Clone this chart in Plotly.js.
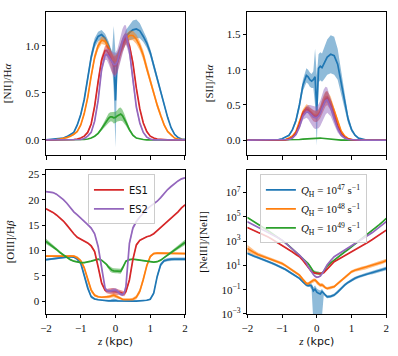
<!DOCTYPE html>
<html>
<head>
<meta charset="utf-8">
<script src="https://cdn.plot.ly/plotly-3.0.1.min.js"></script>
<style>
  html, body { margin: 0; padding: 0; background: #fff; }
  #fig { width: 398px; height: 356px; }
</style>
</head>
<body>
<div id="fig"></div>
<script>
// ====== Data ======
// z grid in kpc: -2.0..-0.3 by 0.1, -0.25..0.3 by 0.05, 0.4..2.0 by 0.1
var Z = [-2.0,-1.9,-1.8,-1.7,-1.6,-1.5,-1.4,-1.3,-1.2,-1.1,-1.0,-0.9,-0.8,-0.7,-0.6,-0.5,-0.4,-0.3,
  -0.25,-0.2,-0.15,-0.1,-0.05,0.0,0.05,0.1,0.15,0.2,0.25,0.3,
  0.4,0.5,0.6,0.7,0.8,0.9,1.0,1.1,1.2,1.3,1.4,1.5,1.6,1.7,1.8,1.9,2.0];

// [NII]/Halpha  (value, band half-width)
var NII_BLUE = [0,0.005,0.008,0.012,0.016,0.02,0.035,0.055,0.08,0.16,0.27,0.43,0.65,0.88,1.03,1.1,1.12,1.08,
  1.04,1.0,0.94,0.88,0.86,0.42,0.85,0.92,0.98,1.02,1.06,1.1,
  1.14,1.17,1.18,1.16,1.1,1.03,0.93,0.79,0.65,0.5,0.36,0.24,0.13,0.06,0.025,0.01,0.005];
var NII_BLUE_E = [0,0,0,0,0,0.005,0.005,0.01,0.01,0.015,0.02,0.03,0.04,0.05,0.05,0.05,0.05,0.05,
  0.05,0.05,0.05,0.06,0.35,0.5,0.08,0.06,0.06,0.06,0.06,0.07,
  0.08,0.1,0.1,0.08,0.06,0.05,0.04,0.04,0.03,0.03,0.02,0.02,0.01,0.01,0,0,0];
var NII_ORANGE = [0,0,0.003,0.005,0.01,0.015,0.025,0.04,0.06,0.09,0.16,0.28,0.45,0.68,0.88,1.0,1.06,1.05,
  1.02,0.98,0.93,0.88,0.85,0.84,0.86,0.91,0.96,1.0,1.04,1.07,
  1.11,1.11,1.07,1.0,0.9,0.76,0.62,0.5,0.37,0.26,0.16,0.09,0.05,0.02,0.01,0.005,0];
var NII_ORANGE_E = [0,0,0,0,0,0,0,0.005,0.01,0.01,0.015,0.02,0.03,0.04,0.04,0.04,0.04,0.04,
  0.04,0.04,0.04,0.05,0.06,0.06,0.06,0.05,0.05,0.05,0.05,0.05,
  0.05,0.05,0.05,0.05,0.05,0.04,0.04,0.03,0.03,0.02,0.02,0.01,0.01,0,0,0,0];
var NII_GREEN = [0,0,0,0,0,0,0,0,0,0,0.002,0.005,0.01,0.02,0.04,0.07,0.12,0.18,
  0.21,0.23,0.245,0.245,0.235,0.24,0.255,0.27,0.275,0.26,0.23,0.19,
  0.11,0.05,0.02,0.01,0.005,0,0,0,0,0,0,0,0,0,0,0,0];
var NII_GREEN_E = [0,0,0,0,0,0,0,0,0,0,0,0,0,0,0.005,0.01,0.02,0.03,
  0.04,0.05,0.05,0.05,0.06,0.06,0.06,0.07,0.07,0.06,0.05,0.04,
  0.02,0.01,0.005,0,0,0,0,0,0,0,0,0,0,0,0,0,0];
var NII_RED = [0,0,0,0,0,0,0,0,0.005,0.01,0.02,0.04,0.08,0.17,0.36,0.62,0.85,0.95,
  0.95,0.92,0.87,0.82,0.79,0.79,0.82,0.88,0.95,1.01,1.05,1.08,
  1.0,0.82,0.55,0.33,0.18,0.09,0.04,0.02,0.01,0.005,0,0,0,0,0,0,0];
var NII_RED_E = [0,0,0,0,0,0,0,0,0,0,0,0.005,0.01,0.02,0.03,0.04,0.04,0.05,
  0.06,0.07,0.08,0.1,0.1,0.1,0.1,0.1,0.09,0.08,0.07,0.06,
  0.05,0.04,0.03,0.02,0.01,0.01,0.005,0,0,0,0,0,0,0,0,0,0];
var NII_PURPLE = [0,0,0,0,0,0,0,0,0,0,0.005,0.015,0.04,0.08,0.2,0.42,0.75,0.9,
  0.91,0.89,0.86,0.82,0.8,0.8,0.83,0.9,0.98,1.05,1.1,1.12,
  0.95,0.62,0.35,0.18,0.08,0.03,0.01,0,0,0,0,0,0,0,0,0,0];
var NII_PURPLE_E = [0,0,0,0,0,0,0,0,0,0,0,0,0.005,0.01,0.02,0.03,0.04,0.05,
  0.06,0.08,0.1,0.12,0.13,0.13,0.13,0.13,0.13,0.13,0.12,0.1,
  0.06,0.04,0.03,0.02,0.01,0.005,0,0,0,0,0,0,0,0,0,0,0];

// [SII]/Halpha
var SII_BLUE = [0,0,0,0,0,0,0,0.002,0.005,0.01,0.02,0.04,0.07,0.15,0.28,0.5,0.78,0.92,
  0.9,0.86,0.84,0.86,0.9,0.42,1.02,1.05,1.03,1.08,1.14,1.18,
  1.22,1.2,1.08,0.82,0.52,0.3,0.15,0.07,0.03,0.015,0.005,0,0,0,0,0,0];
var SII_BLUE_E = [0,0,0,0,0,0,0,0,0,0,0,0.005,0.01,0.02,0.04,0.06,0.08,0.1,
  0.1,0.1,0.1,0.12,0.4,0.5,0.2,0.2,0.2,0.22,0.24,0.25,
  0.27,0.27,0.22,0.16,0.1,0.06,0.03,0.015,0.005,0,0,0,0,0,0,0,0];
var SII_ORANGE = [0,0,0,0,0,0,0,0,0,0,0.005,0.01,0.03,0.06,0.12,0.25,0.4,0.46,
  0.45,0.42,0.39,0.37,0.36,0.36,0.38,0.42,0.5,0.57,0.61,0.62,
  0.55,0.42,0.26,0.13,0.06,0.025,0.01,0.005,0,0,0,0,0,0,0,0,0];
var SII_ORANGE_E = [0,0,0,0,0,0,0,0,0,0,0,0,0.005,0.01,0.02,0.03,0.04,0.05,
  0.05,0.05,0.05,0.05,0.05,0.05,0.05,0.06,0.07,0.08,0.08,0.08,
  0.07,0.05,0.04,0.02,0.01,0.005,0,0,0,0,0,0,0,0,0,0,0];
var SII_GREEN = [0,0,0,0,0,0,0,0,0,0,0,0,0,0.002,0.005,0.01,0.015,0.02,
  0.022,0.025,0.027,0.03,0.03,0.03,0.03,0.03,0.028,0.025,0.023,0.02,
  0.015,0.01,0.005,0.002,0,0,0,0,0,0,0,0,0,0,0,0,0];
var SII_GREEN_E = [0,0,0,0,0,0,0,0,0,0,0,0,0,0,0,0,0,0.002,
  0.002,0.003,0.003,0.003,0.003,0.003,0.003,0.003,0.003,0.003,0.002,0.002,
  0,0,0,0,0,0,0,0,0,0,0,0,0,0,0,0,0];
var SII_RED = [0,0,0,0,0,0,0,0,0,0,0,0.005,0.015,0.04,0.1,0.22,0.38,0.44,
  0.43,0.4,0.37,0.35,0.34,0.34,0.36,0.4,0.47,0.54,0.58,0.6,
  0.5,0.35,0.2,0.09,0.04,0.015,0.005,0,0,0,0,0,0,0,0,0,0];
var SII_RED_E = [0,0,0,0,0,0,0,0,0,0,0,0,0,0.005,0.01,0.02,0.03,0.04,
  0.05,0.06,0.07,0.08,0.08,0.08,0.08,0.09,0.1,0.1,0.1,0.1,
  0.08,0.05,0.03,0.015,0.005,0,0,0,0,0,0,0,0,0,0,0,0];
var SII_PURPLE = [0,0,0,0,0,0,0,0,0,0,0,0.005,0.01,0.03,0.08,0.19,0.34,0.4,
  0.4,0.38,0.35,0.33,0.32,0.32,0.34,0.38,0.45,0.52,0.56,0.57,
  0.46,0.3,0.16,0.07,0.03,0.01,0.005,0,0,0,0,0,0,0,0,0,0];
var SII_PURPLE_E = [0,0,0,0,0,0,0,0,0,0,0,0,0,0.005,0.01,0.03,0.05,0.08,
  0.1,0.12,0.14,0.15,0.16,0.16,0.17,0.18,0.2,0.2,0.2,0.18,
  0.12,0.08,0.05,0.02,0.01,0,0,0,0,0,0,0,0,0,0,0,0];

// [OIII]/Hbeta
var OIII_BLUE = [8.2,8.3,8.4,8.5,8.5,8.6,8.7,8.8,8.7,8.3,7.5,5.2,2.6,0.9,0.45,0.3,0.2,0.15,
  0.12,0.1,0.1,0.15,0.2,0.15,0.1,0.08,0.06,0.05,0.05,0.05,
  0.05,0.05,0.05,0.07,0.1,0.2,0.4,1.6,4.9,7.2,8.0,8.2,8.3,8.3,8.3,8.3,8.3];
var OIII_BLUE_E = [0.2,0.2,0.2,0.2,0.2,0.2,0.2,0.2,0.2,0.2,0.3,0.4,0.4,0.3,0.2,0.1,0.1,0.1,
  0.1,0.15,0.2,0.3,0.35,0.3,0.2,0.15,0.1,0.1,0.1,0.1,
  0.1,0.1,0.1,0.1,0.1,0.1,0.15,0.3,0.4,0.4,0.3,0.3,0.3,0.3,0.3,0.3,0.3];
var OIII_ORANGE = [8.9,8.9,8.9,8.9,8.9,8.9,9.0,9.0,8.9,8.6,8.0,6.6,4.2,2.2,1.2,0.9,0.8,0.8,
  0.85,0.9,1.0,1.15,1.2,1.05,0.85,0.65,0.5,0.4,0.35,0.35,
  0.35,0.4,0.8,2.0,4.3,7.0,8.8,9.4,9.5,9.5,9.5,9.5,9.5,9.5,9.4,9.4,9.4];
var OIII_ORANGE_E = [0.2,0.2,0.2,0.2,0.2,0.2,0.2,0.2,0.2,0.25,0.3,0.4,0.5,0.4,0.3,0.2,0.2,0.2,
  0.25,0.3,0.35,0.4,0.4,0.4,0.35,0.3,0.25,0.2,0.2,0.2,
  0.2,0.3,0.4,0.5,0.5,0.4,0.3,0.2,0.2,0.2,0.2,0.2,0.2,0.2,0.2,0.2,0.2];
var OIII_GREEN = [11.8,11.3,10.7,10.2,9.6,9.1,8.6,8.2,7.9,7.7,7.6,7.6,7.7,7.9,8.1,8.3,8.1,7.6,
  7.2,6.7,6.3,6.1,6.0,6.0,6.0,5.9,5.9,6.5,7.3,7.9,
  8.2,8.3,8.2,8.1,8.0,7.9,7.8,7.7,7.8,8.1,8.6,9.1,9.6,10.1,10.6,11.1,11.6];
var OIII_GREEN_E = [0.5,0.4,0.3,0.2,0.15,0.1,0.1,0.1,0.1,0.1,0.1,0.1,0.1,0.1,0.1,0.1,0.15,0.2,
  0.3,0.4,0.5,0.5,0.5,0.5,0.5,0.5,0.5,0.4,0.3,0.2,
  0.15,0.1,0.1,0.1,0.1,0.1,0.1,0.1,0.1,0.1,0.15,0.2,0.25,0.3,0.35,0.4,0.5];
var OIII_RED = [18.2,17.9,17.5,17.0,16.4,15.8,15.0,14.1,13.3,12.6,12.2,11.9,11.5,10.9,9.8,6.8,3.6,2.2,
  2.0,2.0,2.0,2.0,2.0,1.9,1.85,1.8,1.7,1.55,1.5,1.9,
  4.2,8.2,11.1,12.0,12.4,12.7,12.9,13.3,13.9,14.5,15.1,15.8,16.4,17.0,17.6,18.4,19.0];
var OIII_RED_E = [0.1,0.1,0.1,0.1,0.1,0.1,0.1,0.1,0.1,0.1,0.1,0.1,0.15,0.2,0.3,0.4,0.4,0.3,
  0.4,0.5,0.6,0.6,0.6,0.6,0.6,0.5,0.5,0.5,0.5,0.4,
  0.4,0.4,0.3,0.2,0.15,0.1,0.1,0.1,0.1,0.1,0.1,0.1,0.1,0.1,0.1,0.1,0.1];
var OIII_PURPLE = [21.6,21.5,21.4,21.1,20.6,20.0,19.3,18.4,17.6,17.0,16.4,15.8,15.1,14.4,13.3,10.8,6.3,2.6,
  2.1,2.0,2.0,2.1,2.2,2.2,2.0,1.7,1.4,1.3,1.6,2.9,
  11.4,14.4,15.7,16.6,17.4,18.1,18.7,19.2,19.7,20.4,21.3,22.0,22.6,23.2,23.7,24.1,24.3];
var OIII_PURPLE_E = [0.1,0.1,0.1,0.1,0.1,0.1,0.1,0.1,0.1,0.1,0.1,0.1,0.1,0.15,0.2,0.3,0.4,0.3,
  0.3,0.3,0.3,0.4,0.4,0.4,0.4,0.4,0.3,0.3,0.3,0.4,
  0.5,0.4,0.3,0.2,0.1,0.1,0.1,0.1,0.1,0.1,0.1,0.1,0.1,0.1,0.1,0.1,0.1];

// [NeIII]/[NeII], in dex (log10 of the ratio), band half-widths in dex
var NE_BLUE = [2.0,1.85,1.75,1.65,1.55,1.44,1.33,1.2,1.08,0.96,0.84,0.66,0.48,0.3,0.12,-0.07,-0.35,-0.62,
  -0.66,-0.62,-0.7,-1.1,-0.95,-1.2,-1.3,-1.36,-1.15,-1.3,-1.5,-1.58,
  -1.55,-1.44,-1.2,-0.9,-0.62,-0.4,-0.21,-0.06,0.06,0.16,0.26,0.34,0.42,0.5,0.58,0.66,0.75];
var NE_BLUE_E = [0.1,0.1,0.1,0.1,0.1,0.1,0.1,0.1,0.1,0.1,0.1,0.1,0.1,0.1,0.1,0.1,0.1,0.12,
  0.12,0.15,0.2,0.3,0.3,0.3,0.3,0.3,0.2,0.15,0.12,0.12,
  0.12,0.12,0.12,0.12,0.12,0.12,0.12,0.12,0.12,0.12,0.12,0.12,0.15,0.15,0.15,0.15,0.15];
var NE_BLUE_DROP = [0.1,0.1,0.1,0.1,0.1,0.1,0.1,0.1,0.1,0.1,0.1,0.1,0.1,0.1,0.1,0.1,0.1,0.12,
  0.12,0.15,0.3,2.5,2.5,2.5,2.5,2.5,2.0,0.15,0.12,0.12,
  0.12,0.12,0.12,0.12,0.12,0.12,0.12,0.12,0.12,0.12,0.12,0.12,0.15,0.15,0.15,0.15,0.15];
var NE_ORANGE = [2.4,2.2,2.05,1.9,1.8,1.71,1.6,1.48,1.37,1.26,1.16,0.98,0.8,0.6,0.4,0.2,-0.15,-0.48,
  -0.5,-0.4,-0.3,-0.22,-0.2,-0.4,-0.5,-0.62,-0.6,-0.7,-0.85,-0.9,
  -0.85,-0.75,-0.5,-0.25,0.0,0.25,0.48,0.6,0.68,0.75,0.82,0.92,1.0,1.08,1.18,1.28,1.4];
var NE_ORANGE_E = [0.3,0.25,0.2,0.15,0.12,0.12,0.12,0.12,0.12,0.12,0.12,0.12,0.12,0.12,0.12,0.12,0.12,0.12,
  0.12,0.15,0.15,0.15,0.15,0.15,0.15,0.15,0.15,0.15,0.12,0.12,
  0.12,0.12,0.12,0.12,0.12,0.12,0.12,0.12,0.15,0.15,0.15,0.15,0.15,0.15,0.15,0.15,0.15];
var NE_GREEN = [4.95,4.78,4.6,4.4,4.22,4.04,3.85,3.66,3.46,3.27,3.08,2.85,2.6,2.35,2.1,1.85,1.58,1.3,
  1.16,0.95,0.7,0.5,0.4,0.4,0.35,0.3,0.35,0.5,0.7,0.95,
  1.2,1.44,1.66,1.88,2.1,2.31,2.53,2.75,2.97,3.19,3.41,3.63,3.86,4.1,4.35,4.6,4.86];
var NE_GREEN_E = [0.03,0.03,0.03,0.03,0.03,0.03,0.03,0.03,0.03,0.03,0.03,0.03,0.03,0.03,0.03,0.03,0.03,0.05,
  0.05,0.08,0.1,0.12,0.15,0.15,0.15,0.12,0.1,0.08,0.05,0.05,
  0.03,0.03,0.03,0.03,0.03,0.03,0.03,0.03,0.03,0.03,0.03,0.03,0.03,0.03,0.03,0.03,0.03];
var NE_RED = [4.12,3.97,3.84,3.72,3.6,3.49,3.33,3.17,3.0,2.84,2.67,2.48,2.29,2.1,1.9,1.71,1.4,1.05,
  0.85,0.62,0.48,0.4,0.35,0.34,0.33,0.33,0.36,0.4,0.55,0.75,
  1.05,1.3,1.46,1.62,1.79,1.95,2.12,2.28,2.45,2.62,2.78,2.95,3.13,3.32,3.5,3.7,3.9];
var NE_RED_E = [0.03,0.03,0.03,0.03,0.03,0.03,0.03,0.03,0.03,0.03,0.03,0.03,0.03,0.03,0.03,0.03,0.03,0.03,
  0.05,0.05,0.05,0.05,0.05,0.05,0.05,0.05,0.05,0.05,0.05,0.05,
  0.03,0.03,0.03,0.03,0.03,0.03,0.03,0.03,0.03,0.03,0.03,0.03,0.03,0.03,0.03,0.03,0.03];
var NE_PURPLE = [4.6,4.45,4.3,4.15,4.03,3.9,3.74,3.58,3.42,3.25,3.08,2.84,2.6,2.35,2.1,1.85,1.55,1.2,
  0.9,0.65,0.45,0.25,0.1,0.02,0.05,0.12,0.3,0.55,0.85,1.05,
  1.4,1.71,1.9,2.08,2.25,2.4,2.55,2.73,2.92,3.1,3.3,3.49,3.7,3.92,4.15,4.38,4.6];
var NE_PURPLE_E = [0.03,0.03,0.03,0.03,0.03,0.03,0.03,0.03,0.03,0.03,0.03,0.03,0.03,0.03,0.03,0.03,0.03,0.03,
  0.05,0.05,0.05,0.05,0.05,0.05,0.05,0.05,0.05,0.05,0.05,0.05,
  0.03,0.03,0.03,0.03,0.03,0.03,0.03,0.03,0.03,0.03,0.03,0.03,0.03,0.03,0.03,0.03,0.03];

var MODEL_NAMES = ['<i>Q</i><sub>H</sub> = 10<sup>47</sup> s<sup>\u22121</sup>',
                   '<i>Q</i><sub>H</sub> = 10<sup>48</sup> s<sup>\u22121</sup>',
                   '<i>Q</i><sub>H</sub> = 10<sup>49</sup> s<sup>\u22121</sup>',
                   'ES1', 'ES2'];
var LOG_TICKS = [1e-3, 1e-1, 1e1, 1e3, 1e5, 1e7];
var LOG_TICKTEXT = ['10<sup>\u22123</sup>', '10<sup>\u22121</sup>', '10<sup>1</sup>',
                    '10<sup>3</sup>', '10<sup>5</sup>', '10<sup>7</sup>'];

// ====== Styling ======
var COLORS = ['#1f77b4', '#ff7f0e', '#2ca02c', '#d62728', '#9467bd'];
var SERIF = 'Liberation Serif, DejaVu Serif, serif';
var SANS = 'DejaVu Sans, sans-serif';

function rgba(hex, a) {
  var r = parseInt(hex.slice(1, 3), 16), g = parseInt(hex.slice(3, 5), 16), b = parseInt(hex.slice(5, 7), 16);
  return 'rgba(' + r + ',' + g + ',' + b + ',' + a + ')';
}

var traces = [];
function addSeries(xa, ya, y, lo, hi, k, legendId) {
  var c = COLORS[k];
  traces.push({ x: Z, y: lo, xaxis: xa, yaxis: ya, type: 'scatter', mode: 'lines',
    line: { width: 0, color: c }, showlegend: false, hoverinfo: 'skip' });
  traces.push({ x: Z, y: hi, xaxis: xa, yaxis: ya, type: 'scatter', mode: 'lines',
    line: { width: 0, color: c }, fill: 'tonexty', fillcolor: rgba(c, 0.5),
    showlegend: false, hoverinfo: 'skip' });
  var t = { x: Z, y: y, xaxis: xa, yaxis: ya, type: 'scatter', mode: 'lines',
    line: { width: 1.7, color: c }, name: MODEL_NAMES[k], showlegend: !!legendId };
  if (legendId) t.legend = legendId;
  traces.push(t);
}
function linPanel(xa, ya, vals, errs, legendOf) {
  for (var k = 0; k < vals.length; k++) {
    var y = vals[k], e = errs[k];
    var lo = y.map(function (v, i) { return v - e[i]; });
    var hi = y.map(function (v, i) { return v + e[i]; });
    addSeries(xa, ya, y, lo, hi, k, legendOf ? legendOf[k] : null);
  }
}
function logPanel(xa, ya, vals, errs, drops, legendOf) {
  for (var k = 0; k < vals.length; k++) {
    var L = vals[k], e = errs[k], d = drops[k];
    var y = L.map(function (v) { return Math.pow(10, v); });
    var lo = L.map(function (v, i) { return Math.pow(10, v - d[i]); });
    var hi = L.map(function (v, i) { return Math.pow(10, v + e[i]); });
    addSeries(xa, ya, y, lo, hi, k, legendOf ? legendOf[k] : null);
  }
}

linPanel('x', 'y', [NII_BLUE, NII_ORANGE, NII_GREEN, NII_RED, NII_PURPLE],
  [NII_BLUE_E, NII_ORANGE_E, NII_GREEN_E, NII_RED_E, NII_PURPLE_E]);
linPanel('x2', 'y2', [SII_BLUE, SII_ORANGE, SII_GREEN, SII_RED, SII_PURPLE],
  [SII_BLUE_E, SII_ORANGE_E, SII_GREEN_E, SII_RED_E, SII_PURPLE_E]);
linPanel('x3', 'y3', [OIII_BLUE, OIII_ORANGE, OIII_GREEN, OIII_RED, OIII_PURPLE],
  [OIII_BLUE_E, OIII_ORANGE_E, OIII_GREEN_E, OIII_RED_E, OIII_PURPLE_E],
  [null, null, null, 'legend', 'legend']);
logPanel('x4', 'y4', [NE_BLUE, NE_ORANGE, NE_GREEN, NE_RED, NE_PURPLE],
  [NE_BLUE_E, NE_ORANGE_E, NE_GREEN_E, NE_RED_E, NE_PURPLE_E],
  [NE_BLUE_DROP, NE_ORANGE_E, NE_GREEN_E, NE_RED_E, NE_PURPLE_E],
  ['legend2', 'legend2', 'legend2', null, null]);

// ====== Axes ======
var LEFT = [0.1156, 0.4648], RIGHT = [0.6214, 0.9706];
var TOP = [0.5646, 0.9663], BOTTOM = [0.118, 0.5225];
function xax(dom, anchor, labels) {
  return {
    domain: dom, anchor: anchor, range: [-2, 2], tickvals: [-2, -1, 0, 1, 2],
    showticklabels: labels, ticks: 'outside', ticklen: 3.5, tickwidth: 1, tickcolor: '#000',
    showline: true, mirror: true, linecolor: '#000', linewidth: 1,
    showgrid: false, zeroline: false,
    tickfont: { family: SERIF, size: 11, color: '#111' },
    title: labels ? { text: '<i>z</i> <span style="font-family:DejaVu Sans">(kpc)</span>',
                      font: { family: SERIF, size: 11, color: '#111' }, standoff: 4 } : { text: '' }
  };
}
function yax(dom, anchor, range, title, extra) {
  var a = {
    domain: dom, anchor: anchor, range: range,
    ticks: 'outside', ticklen: 3.5, tickwidth: 1, tickcolor: '#000',
    showline: true, mirror: true, linecolor: '#000', linewidth: 1,
    showgrid: false, zeroline: false,
    tickfont: { family: SERIF, size: 11, color: '#111' },
    title: { text: title, font: { family: SERIF, size: 11, color: '#111' }, standoff: 11 }
  };
  return Object.assign(a, extra || {});
}

var layout = {
  width: 398, height: 356,
  margin: { l: 0, r: 0, t: 0, b: 0 },
  paper_bgcolor: '#fff', plot_bgcolor: '#fff',
  xaxis: xax(LEFT, 'y', false),
  yaxis: yax(TOP, 'x', [-0.16, 1.36], '[NII]/H<i>\u03b1</i>',
    { tickvals: [0, 0.5, 1.0], ticktext: ['0.0', '0.5', '1.0'] }),
  xaxis2: xax(RIGHT, 'y2', false),
  yaxis2: yax(TOP, 'x2', [-0.21, 1.82], '[SII]/H<i>\u03b1</i>',
    { tickvals: [0, 0.5, 1.0, 1.5], ticktext: ['0.0', '0.5', '1.0', '1.5'] }),
  xaxis3: xax(LEFT, 'y3', true),
  yaxis3: yax(BOTTOM, 'x3', [-2.5, 25.85], '[OIII]/H<i>\u03b2</i>',
    { tickvals: [0, 5, 10, 15, 20, 25] }),
  xaxis4: xax(RIGHT, 'y4', true),
  yaxis4: yax(BOTTOM, 'x4', [-3, 8.85], '[NeIII]/[NeII]',
    { type: 'log', tickvals: LOG_TICKS, ticktext: LOG_TICKTEXT }),
  legend: {
    x: 0.221, y: 0.51, xanchor: 'left', yanchor: 'top', traceorder: 'normal',
    bgcolor: 'rgba(255,255,255,0.8)', bordercolor: '#cccccc', borderwidth: 1,
    font: { family: SANS, size: 10, color: '#111' }, itemwidth: 30, tracegroupgap: 0
  },
  legend2: {
    x: 0.653, y: 0.51, xanchor: 'left', yanchor: 'top', traceorder: 'normal',
    bgcolor: 'rgba(255,255,255,0.8)', bordercolor: '#cccccc', borderwidth: 1,
    font: { family: SERIF, size: 11, color: '#111' }, itemwidth: 30, tracegroupgap: 0
  },
  showlegend: true
};

Plotly.newPlot('fig', traces, layout, { displayModeBar: false, staticPlot: true });
</script>
</body>
</html>
